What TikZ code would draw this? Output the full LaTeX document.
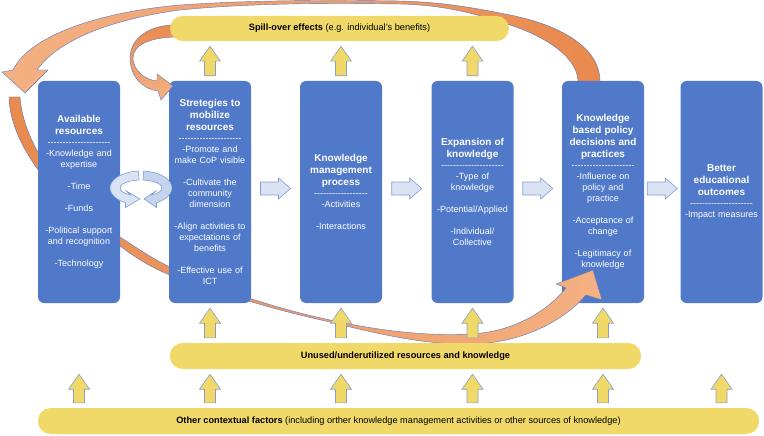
\documentclass[tikz,border=0pt]{standalone}
\usepackage{fontspec}
\setmainfont{Liberation Sans}
\usetikzlibrary{calc}
\definecolor{boxblue}{RGB}{80,121,201}
\definecolor{ybar}{RGB}{240,217,104}
\definecolor{yedge}{RGB}{140,158,200}
\definecolor{lblue}{RGB}{218,227,243}
\definecolor{lblue2}{RGB}{196,211,238}
\definecolor{lbedge}{RGB}{128,158,212}
\definecolor{orangeD}{RGB}{233,137,77}
\definecolor{orangeL}{RGB}{244,177,131}
\definecolor{oedge}{RGB}{90,118,190}
\newcommand\dashrow[1]{\foreach\k in {1,...,#1}{-\kern0pt}}
\newcommand\ttl[1]{{\fontsize{10}{11}\selectfont\bfseries #1}}
\newcommand\yarr[2]{\filldraw[yarrow] let \p1=#1, \p2=#2 in
  (\x1-5.5pt,\y1+5pt) -- (\x1+5.5pt,\y1+5pt) -- (\x1+5.5pt,\y2-20pt) -- (\x1+10.5pt,\y2-20pt)
  -- (\x1,\y2-5pt) -- (\x1-10.5pt,\y2-20pt) -- (\x1-5.5pt,\y2-20pt) -- cycle;}
\newcommand\barr[2]{\filldraw[barrow] let \p1=#1, \p2=#2, \n1={(\x1+\x2)/2} in
  (\n1-15pt,\y1+6.5pt) -- (\n1+3pt,\y1+6.5pt) -- (\n1+3pt,\y1+10.5pt) -- (\n1+15pt,\y1)
  -- (\n1+3pt,\y1-10.5pt) -- (\n1+3pt,\y1-6.5pt) -- (\n1-15pt,\y1-6.5pt) -- cycle;}
\tikzset{
  box/.style={fill=boxblue, rounded corners=6pt, minimum width=82pt, minimum height=222pt,
    inner sep=0pt, text width=80pt, align=center, text=white, font=\fontsize{9}{11}\selectfont},
  bar/.style={fill=ybar, rounded corners=12.5pt, minimum height=25pt, inner sep=0pt,
    font=\fontsize{9.2}{11}\selectfont, text=black},
  yarrow/.style={fill=ybar, draw=yedge, line width=0.6pt},
  barrow/.style={fill=lblue, draw=lbedge, line width=0.6pt},
  ribbon/.style={draw=oedge, line width=0.4pt},
  ring/.style={fill=lblue, draw=lbedge, line width=0.6pt}
}
\begin{document}
\begin{tikzpicture}[x=1pt,y=-1pt]
\useasboundingbox (0,0) rectangle (764,436);
% box 5 first (curved arrow head lies over it)
\node[box] (b5) at (603,192) {\ttl{Knowledge}\\[1pt]\ttl{based policy}\\[1pt]\ttl{decisions and}\\[1pt]\ttl{practices}\\
  \dashrow{21}\\ -Influence on\\ policy and\\ practice\\[11pt] -Acceptance of\\ change\\[11pt] -Legitimacy of\\ knowledge};
% long lower ribbon
\shadedraw[ribbon, left color=orangeD, right color=orangeL]
  (20,97) .. controls (24,150) and (70,205) .. (120,237)
  .. controls (137,248) and (153,259) .. (170,267)
  .. controls (205,284) and (265,306) .. (330,320)
  .. controls (385,332) and (430,336) .. (470,334)
  .. controls (515,332) and (548,310) .. (566,288)
  -- (556,284) -- (593,270) -- (602,300) -- (586,295)
  .. controls (560,325) and (515,344) .. (470,344)
  .. controls (430,345) and (385,336) .. (330,322)
  .. controls (265,308) and (205,288) .. (170,275)
  .. controls (152,268) and (136,258) .. (120,246)
  .. controls (65,210) and (10,150) .. (9,97) -- cycle;
% other boxes
\node[box] (b1) at (79,192) {\ttl{Available}\\[1pt]\ttl{resources}\\ \dashrow{21}\\
  -Knowledge and\\ expertise\\[11pt] -Time\\[11pt] -Funds\\[11pt] -Political support\\ and recognition\\[11pt] -Technology};
\node[box] (b2) at (210,192) {\ttl{Stretegies to}\\[1pt]\ttl{mobilize}\\[1pt]\ttl{resources}\\ \dashrow{21}\\
  -Promote and\\ make CoP visible\\[11pt] -Cultivate the\\ community\\ dimension\\[11pt]
  -Align activities to\\ expectations of\\ benefits\\[11pt] -Effective use of\\ ICT};
\node[box] (b3) at (341,192) {\ttl{Knowledge}\\[1pt]\ttl{management}\\[1pt]\ttl{process}\\ \dashrow{18}\\
  -Activities\\[11pt] -Interactions};
\node[box] (b4) at (472.5,192) {\ttl{Expansion of}\\[1pt]\ttl{knowledge}\\ \dashrow{21}\\
  -Type of\\ knowledge\\[11pt] -Potential/Applied\\[11pt] -Individual/\\ Collective};
\node[box] (b6) at (721.5,192) {\ttl{Better}\\[1pt]\ttl{educational}\\[1pt]\ttl{outcomes}\\ \dashrow{21}\\ -Impact measures};
% top big ribbon
\shadedraw[ribbon, left color=orangeL, right color=orangeD]
  (600,81) .. controls (600,50) and (565,25) .. (505,14)
  .. controls (470,7) and (440,2) .. (400,1)
  .. controls (330,0) and (250,0) .. (180,5)
  .. controls (100,12) and (30,35) .. (13,70)
  -- (2,72) -- (25,93) -- (48,70) -- (37,70)
  .. controls (60,37) and (120,18) .. (180,10)
  .. controls (250,3) and (330,3) .. (400,4)
  .. controls (440,5) and (470,12) .. (500,22)
  .. controls (540,33) and (577,55) .. (578,81) -- cycle;
% small ribbon
\shadedraw[ribbon, top color=orangeD, bottom color=orangeL]
  (178,25) .. controls (150,24) and (130,38) .. (130,58)
  .. controls (130,76) and (142,89) .. (158,91)
  -- (161,100) -- (173,86) -- (157,74) -- (157,81)
  .. controls (145,80) and (133,70) .. (133,58)
  .. controls (133,45) and (150,37) .. (178,37) -- cycle;
% bars
\node[bar, minimum width=339pt] (spill) at (339.5,28.5) {\textbf{Spill-over effects} (e.g. individual's benefits)};
\node[bar, minimum width=471pt, minimum height=26pt] (unused) at (405.5,356) {\textbf{Unused/underutilized resources and knowledge}};
\node[bar, minimum width=721pt, minimum height=26pt] (other) at (398.5,421) {\textbf{Other contextual factors} (including orther knowledge management activities or other sources of knowledge)};
% yellow arrows
\foreach \b in {b2,b3,b4}{\yarr{(\b.north)}{(\b.north |- spill.south)}}
\foreach \b in {b2,b3,b4,b5}{\yarr{(\b.south |- unused.north)}{(\b.south)}}
\foreach \b in {b1,b2,b3,b4,b5,b6}{\yarr{(\b.south |- other.north)}{(\b.south |- unused.south)}}
% blue arrows
\barr{($(b2.east)+(0,-3.5)$)}{(b3.west)}
\barr{($(b3.east)+(0,-3.5)$)}{(b4.west)}
\barr{($(b4.east)+(0,-3.5)$)}{(b5.west)}
\barr{($(b5.east)+(0,-3.5)$)}{(b6.west)}
% circular arrows
\coordinate (cyc) at (141,188);
\begin{scope}[shift={(cyc)}]
\filldraw[ring, fill=lblue2] (85:31pt and 17pt) arc[start angle=85, end angle=-60, x radius=31pt, y radius=17pt]
  -- (15.5pt,-19.5pt) -- (3pt,-11pt) -- (15.5pt,-2.5pt) -- (-60:21pt and 8pt)
  arc[start angle=-60, end angle=85, x radius=21pt, y radius=8pt] -- cycle;
\filldraw[ring] (95:31pt and 17pt) arc[start angle=95, end angle=240, x radius=31pt, y radius=17pt]
  -- (-15.5pt,-19.5pt) -- (-1pt,-11pt) -- (-15.5pt,-2.5pt) -- (240:21pt and 8pt)
  arc[start angle=240, end angle=95, x radius=21pt, y radius=8pt] -- cycle;
\end{scope}
\end{tikzpicture}
\end{document}
